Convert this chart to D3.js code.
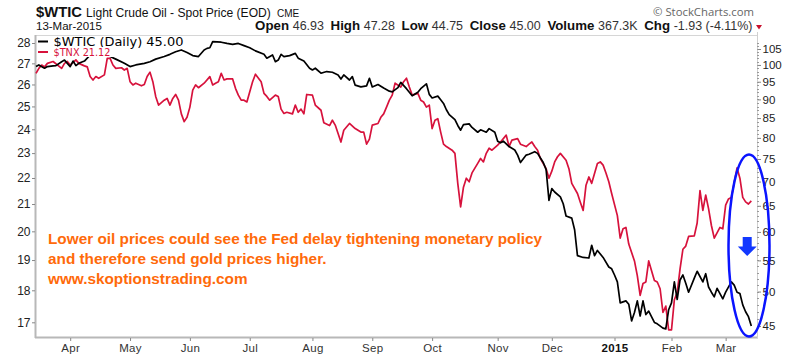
<!DOCTYPE html>
<html><head><meta charset="utf-8">
<script src="https://cdn.jsdelivr.net/npm/d3@7"></script>
<style>body{margin:0;background:#fff}svg{display:block}</style>
</head><body><svg id="c" width="800" height="357"></svg>
<script>
// ---------------- DATA ----------------
const holidays = ["2014-04-18","2014-05-26","2014-07-04","2014-09-01","2014-11-27","2014-12-25","2015-01-01","2015-01-19","2015-02-16"];
const monthStarts = ["2014-04-01","2014-05-01","2014-06-02","2014-07-01","2014-08-01","2014-09-02","2014-10-01","2014-11-03","2014-12-01","2015-01-02","2015-02-02","2015-03-02"];
const monthLabels = ["Apr","May","Jun","Jul","Aug","Sep","Oct","Nov","Dec","2015","Feb","Mar"];
const leftTicks = [17,18,19,20,21,22,23,24,25,26,27,28];
const rightTicks = [45,50,55,60,65,70,75,80,85,90,95,100,105];

const wticSeries = [
["2014-03-14",99.5],["2014-03-17",100.0],["2014-03-19",99.0],["2014-03-20",99.5],["2014-03-24",99.7],["2014-03-25",99.8],
["2014-03-27",101.0],["2014-03-28",101.5],["2014-04-01",99.5],["2014-04-02",101.2],["2014-04-03",99.8],["2014-04-04",100.5],
["2014-04-08",101.2],["2014-04-10",103.1],["2014-04-15",103.8],["2014-04-17",104.3],["2014-04-21",104.0],["2014-04-22",102.6],
["2014-04-24",101.8],["2014-04-29",100.5],["2014-05-01",99.5],["2014-05-05",100.0],["2014-05-08",100.5],["2014-05-12",101.0],
["2014-05-14",101.8],["2014-05-19",102.6],["2014-05-21",103.3],["2014-05-23",104.1],["2014-05-28",104.7],["2014-05-30",103.9],
["2014-06-03",102.9],["2014-06-05",102.6],["2014-06-09",104.7],["2014-06-10",105.2],["2014-06-11",105.4],["2014-06-12",107.4],
["2014-06-17",107.2],["2014-06-19",106.8],["2014-06-23",106.5],["2014-06-25",106.8],["2014-06-27",106.1],["2014-07-01",105.4],
["2014-07-03",104.4],["2014-07-09",103.3],["2014-07-10",102.1],["2014-07-14",103.1],["2014-07-15",101.0],["2014-07-16",101.5],
["2014-07-17",103.3],["2014-07-18",102.6],["2014-07-22",102.9],["2014-07-24",103.6],["2014-07-25",102.1],["2014-07-29",101.2],
["2014-07-31",99.0],["2014-08-01",98.5],["2014-08-04",99.0],["2014-08-06",97.5],["2014-08-08",98.0],["2014-08-12",97.8],
["2014-08-14",97.0],["2014-08-15",95.8],["2014-08-18",97.0],["2014-08-20",95.5],["2014-08-21",96.5],["2014-08-22",94.0],
["2014-08-26",93.5],["2014-08-28",93.8],["2014-08-29",96.0],["2014-09-02",93.5],["2014-09-04",94.2],["2014-09-08",93.2],
["2014-09-10",92.3],["2014-09-11",92.1],["2014-09-15",93.3],["2014-09-16",94.8],["2014-09-18",93.0],["2014-09-22",91.0],
["2014-09-24",92.0],["2014-09-25",93.0],["2014-09-29",94.4],["2014-09-30",91.4],["2014-10-01",90.4],["2014-10-03",90.9],
["2014-10-06",89.9],["2014-10-07",88.9],["2014-10-08",87.2],["2014-10-09",85.9],["2014-10-13",84.6],["2014-10-14",83.1],
["2014-10-15",81.9],["2014-10-16",83.3],["2014-10-20",83.5],["2014-10-21",82.6],["2014-10-23",81.4],["2014-10-24",82.0],
["2014-10-28",81.4],["2014-10-29",82.3],["2014-10-31",81.4],["2014-11-03",79.2],["2014-11-04",78.8],["2014-11-05",79.2],
["2014-11-07",77.9],["2014-11-11",77.1],["2014-11-12",75.9],["2014-11-13",74.2],["2014-11-17",75.9],["2014-11-18",76.1],
["2014-11-20",76.7],["2014-11-21",76.3],["2014-11-25",74.2],["2014-11-26",72.6],["2014-11-28",66.1],["2014-12-01",68.5],
["2014-12-02",67.8],["2014-12-04",66.8],["2014-12-05",65.4],["2014-12-08",63.0],["2014-12-10",62.6],["2014-12-11",60.4],
["2014-12-12",55.8],["2014-12-16",55.5],["2014-12-18",55.4],["2014-12-19",57.6],["2014-12-22",55.8],["2014-12-23",56.7],
["2014-12-26",55.5],["2014-12-30",53.9],["2014-12-31",53.6],["2015-01-02",52.6],["2015-01-05",51.5],["2015-01-06",48.3],
["2015-01-08",48.6],["2015-01-09",48.1],["2015-01-12",45.7],["2015-01-13",46.9],["2015-01-14",48.6],["2015-01-15",46.4],
["2015-01-16",48.6],["2015-01-20",46.6],["2015-01-21",47.1],["2015-01-23",45.5],["2015-01-26",45.3],["2015-01-28",44.7],
["2015-01-29",44.6],["2015-01-30",47.3],["2015-02-02",48.3],["2015-02-03",51.5],["2015-02-04",48.8],["2015-02-05",51.8],
["2015-02-06",52.6],["2015-02-09",51.3],["2015-02-10",49.9],["2015-02-12",52.1],["2015-02-13",53.2],["2015-02-18",51.5],
["2015-02-19",52.8],["2015-02-20",50.7],["2015-02-23",49.9],["2015-02-24",49.2],["2015-02-25",50.5],["2015-02-27",48.9],
["2015-03-02",49.9],["2015-03-04",51.5],["2015-03-05",51.0],["2015-03-06",49.9],["2015-03-09",49.7],["2015-03-10",48.0],
["2015-03-11",47.0],["2015-03-12",46.3],["2015-03-13",45.0]
];

const tnxSeries = [
["2014-03-14",26.52],["2014-03-17",26.76],["2014-03-18",26.92],["2014-03-19",26.83],["2014-03-20",27.0],["2014-03-24",27.09],
["2014-03-27",26.76],["2014-03-28",27.0],["2014-03-31",27.09],["2014-04-01",26.92],["2014-04-03",27.17],["2014-04-04",27.0],
["2014-04-08",26.88],["2014-04-09",26.83],["2014-04-10",26.37],["2014-04-11",26.21],["2014-04-14",26.37],["2014-04-15",26.29],
["2014-04-17",26.45],["2014-04-21",27.24],["2014-04-22",27.24],["2014-04-23",26.92],["2014-04-24",26.76],["2014-04-28",26.79],
["2014-04-29",26.68],["2014-04-30",26.76],["2014-05-01",26.13],["2014-05-02",25.98],["2014-05-05",26.06],["2014-05-07",25.94],
["2014-05-08",26.0],["2014-05-09",26.37],["2014-05-12",26.58],["2014-05-13",26.13],["2014-05-14",25.45],["2014-05-15",25.06],
["2014-05-19",25.28],["2014-05-20",25.36],["2014-05-21",25.06],["2014-05-22",25.36],["2014-05-23",25.54],["2014-05-27",25.28],
["2014-05-28",24.67],["2014-05-29",24.33],["2014-05-30",24.52],["2014-06-02",24.97],["2014-06-03",25.74],["2014-06-04",25.98],
["2014-06-05",25.85],["2014-06-09",26.06],["2014-06-11",26.37],["2014-06-12",25.98],["2014-06-13",26.06],["2014-06-16",26.13],
["2014-06-17",26.52],["2014-06-18",26.21],["2014-06-19",26.26],["2014-06-23",26.26],["2014-06-24",25.82],["2014-06-25",25.51],
["2014-06-26",25.28],["2014-06-27",25.28],["2014-06-30",25.2],["2014-07-02",26.13],["2014-07-03",26.48],["2014-07-08",26.13],
["2014-07-09",25.59],["2014-07-10",25.45],["2014-07-11",25.28],["2014-07-15",25.51],["2014-07-16",25.45],["2014-07-17",24.88],
["2014-07-18",24.69],["2014-07-21",24.74],["2014-07-23",24.67],["2014-07-24",25.06],["2014-07-25",24.74],["2014-07-28",24.88],
["2014-07-29",24.67],["2014-07-30",25.54],["2014-08-01",25.51],["2014-08-04",25.06],["2014-08-06",24.83],["2014-08-07",24.28],
["2014-08-11",24.16],["2014-08-12",24.39],["2014-08-13",24.18],["2014-08-15",23.46],["2014-08-18",23.96],["2014-08-20",24.25],
["2014-08-22",24.03],["2014-08-26",23.88],["2014-08-27",23.88],["2014-08-28",23.37],["2014-08-29",23.58],["2014-09-02",24.18],
["2014-09-04",24.25],["2014-09-05",24.52],["2014-09-08",24.67],["2014-09-09",24.97],["2014-09-10",25.28],["2014-09-11",25.51],
["2014-09-12",26.06],["2014-09-16",25.88],["2014-09-17",26.13],["2014-09-18",26.29],["2014-09-19",25.88],["2014-09-22",25.51],
["2014-09-24",25.59],["2014-09-25",25.28],["2014-09-26",25.2],["2014-09-29",24.97],["2014-09-30",25.06],["2014-10-01",24.03],
["2014-10-02",24.39],["2014-10-03",24.46],["2014-10-06",23.88],["2014-10-07",23.37],["2014-10-08",23.27],["2014-10-10",23.12],
["2014-10-13",22.99],["2014-10-14",21.79],["2014-10-15",20.89],["2014-10-16",21.64],["2014-10-17",21.99],["2014-10-20",21.85],
["2014-10-21",22.2],["2014-10-23",22.58],["2014-10-24",22.78],["2014-10-27",22.64],["2014-10-28",22.99],["2014-10-29",23.2],
["2014-10-30",23.12],["2014-11-03",23.33],["2014-11-04",23.46],["2014-11-06",23.75],["2014-11-07",23.27],["2014-11-10",23.54],
["2014-11-12",23.6],["2014-11-13",23.37],["2014-11-17",23.27],["2014-11-18",23.37],["2014-11-19",23.46],["2014-11-20",23.27],
["2014-11-21",23.12],["2014-11-24",22.78],["2014-11-26",22.37],["2014-11-28",21.99],["2014-12-01",22.27],["2014-12-02",22.64],
["2014-12-03",22.85],["2014-12-04",22.99],["2014-12-08",22.71],["2014-12-09",22.37],["2014-12-10",21.79],["2014-12-12",21.4],
["2014-12-15",21.07],["2014-12-16",20.76],["2014-12-17",21.72],["2014-12-18",22.04],["2014-12-19",21.79],["2014-12-23",22.58],
["2014-12-24",22.64],["2014-12-26",22.51],["2014-12-29",22.2],["2014-12-30",21.85],["2014-12-31",21.4],["2015-01-05",20.57],
["2015-01-06",19.76],["2015-01-07",20.09],["2015-01-08",20.14],["2015-01-09",19.55],["2015-01-13",18.97],["2015-01-14",18.48],
["2015-01-15",17.84],["2015-01-16",18.22],["2015-01-20",18.27],["2015-01-21",18.97],["2015-01-23",18.32],["2015-01-26",18.27],
["2015-01-27",18.05],["2015-01-28",17.3],["2015-01-29",17.5],["2015-01-30",16.77],["2015-02-02",16.77],["2015-02-03",17.7],
["2015-02-04",17.93],["2015-02-05",18.7],["2015-02-06",19.37],["2015-02-09",19.48],["2015-02-10",19.82],["2015-02-12",19.84],
["2015-02-13",20.3],["2015-02-17",21.51],["2015-02-18",20.76],["2015-02-19",21.34],["2015-02-20",20.83],["2015-02-23",20.21],
["2015-02-24",19.76],["2015-02-26",20.14],["2015-02-27",20.09],["2015-03-02",20.96],["2015-03-03",21.19],["2015-03-04",21.25],
["2015-03-06",22.4],["2015-03-09",21.99],["2015-03-10",21.25],["2015-03-11",21.08],["2015-03-12",21.0],["2015-03-13",21.12]
];

const titleSymbol = "$WTIC";
const titleName = "Light Crude Oil - Spot Price (EOD)";
const titleExchange = "CME";
const dateLabel = "13-Mar-2015";
const statLabels = ["Open","High","Low","Close","Volume","Chg"];
const statValues = ["46.93","47.28","44.75","45.00","367.3K","-1.93 (-4.11%)"];
const legendLabels = ["$WTIC (Daily) 45.00","$TNX 21.12"];
const noteLines = ["Lower oil prices could see the Fed delay tightening monetary policy","and therefore send gold prices higher.","www.skoptionstrading.com"];
const credit = "\u00A9 StockCharts.com";

// ---------------- LAYOUT ----------------
const plot = {left:36, right:757, top:35, bottom:337};
const C_BLACK = "#000", C_RED = "#d7123c", C_ORANGE = "#ff6a0a", C_BLUE = "#0a14ff", C_GRID = "#b8b8b8";
const svg = d3.select("#c");

// trading calendar (weekdays minus exchange holidays)
const fmt = d3.utcFormat("%Y-%m-%d");
const cal = [];
for (let t = Date.UTC(2014,2,14); t <= Date.UTC(2015,2,18); t += 864e5) {
  const d = new Date(t), wd = d.getUTCDay(), s = fmt(d);
  if (wd === 0 || wd === 6 || holidays.includes(s)) continue;
  cal.push(s);
}
const calIdx = new Map(cal.map((s,i)=>[s,i]));
function dayIndex(s){ if (calIdx.has(s)) return calIdx.get(s); const i = cal.findIndex(c=>c>s); return i < 0 ? cal.length-1 : i; }

const x = d3.scaleLinear().domain([0, 253]).range([plot.left, plot.right]);
const yL = d3.scaleLog().domain([17, 28]).range([322.3, 43]);
const yR = d3.scaleLog().domain([45, 105]).range([326, 49]);

// frame
svg.append("line").attr("x1",plot.left).attr("x2",plot.right).attr("y1",plot.top+0.5).attr("y2",plot.top+0.5).attr("stroke","#d6d6d6").attr("stroke-width",1);
svg.append("line").attr("x1",plot.left-0.5).attr("x2",plot.left-0.5).attr("y1",plot.top).attr("y2",plot.bottom+1).attr("stroke",C_GRID).attr("stroke-width",2);
svg.append("line").attr("x1",plot.left-1).attr("x2",plot.right+1).attr("y1",plot.bottom+0.5).attr("y2",plot.bottom+0.5).attr("stroke",C_GRID).attr("stroke-width",2);
svg.append("line").attr("x1",plot.right+0.5).attr("x2",plot.right+0.5).attr("y1",plot.top-3).attr("y2",plot.bottom+1).attr("stroke","#d0d0d0").attr("stroke-width",1);

// right minor ticks (dotted look)
const minorR = d3.range(45, 108, 1);
svg.append("g").selectAll("line").data(minorR).join("line")
  .attr("x1",plot.right).attr("x2",plot.right+2)
  .attr("y1",d=>Math.round(yR(d))+0.5).attr("y2",d=>Math.round(yR(d))+0.5)
  .attr("stroke","#9a9a9a").attr("stroke-width",1);

// axes
const axisFont = "'Liberation Sans', Arial, sans-serif";
const gL = svg.append("g").attr("transform",`translate(${plot.left-1},0)`)
  .call(d3.axisLeft(yL).tickValues(leftTicks).tickFormat(d3.format("d")).tickSize(3).tickPadding(1.5));
const gR = svg.append("g").attr("transform",`translate(${plot.right+1},0)`)
  .call(d3.axisRight(yR).tickValues(rightTicks).tickFormat(d3.format("d")).tickSize(3).tickPadding(1.5));
const gB = svg.append("g").attr("transform",`translate(0,${plot.bottom+1})`)
  .call(d3.axisBottom(x).tickValues(monthStarts.map(dayIndex)).tickFormat((d,i)=>monthLabels[i]).tickSize(3).tickPadding(3));
[gL,gR,gB].forEach(g=>{
  g.select(".domain").remove();
  g.selectAll(".tick line").attr("stroke","#888");
  g.selectAll("text").attr("fill","#222").style("font-family",axisFont);
});
gL.selectAll("text").style("font-size","12px");
gR.selectAll("text").style("font-size","11.5px");
gB.selectAll("text").style("font-size","11.5px").style("letter-spacing","0.3px")
  .style("font-weight",(d,i)=>monthLabels[i]==="2015"?"bold":"normal").attr("fill",(d,i)=>monthLabels[i]==="2015"?"#111":"#333");

// series
const lineL = d3.line().x(d=>x(dayIndex(d[0]))).y(d=>yL(d[1]));
const lineR = d3.line().x(d=>x(dayIndex(d[0]))).y(d=>yR(d[1]));
svg.append("path").datum(tnxSeries).attr("d",lineL).attr("fill","none").attr("stroke",C_RED).attr("stroke-width",1.7).attr("stroke-linejoin","round");
svg.append("path").datum(wticSeries).attr("d",lineR).attr("fill","none").attr("stroke",C_BLACK).attr("stroke-width",1.7).attr("stroke-linejoin","round");

// legend
const legFont = "'DejaVu Sans', Verdana, sans-serif";
const legRows = [{t:legendLabels[0], c:C_BLACK, y:45.5, dy:41.5},{t:legendLabels[1], c:C_RED, y:56, dy:52}];
const legG = svg.append("g");
legRows.forEach((r,i)=>{
  const bg = legG.append("rect").attr("fill","#fff");
  const tx = legG.append("text").attr("x",53.5).attr("y",r.y).text(r.t).attr("fill",r.c)
    .style("font-family",legFont).style("font-size","10.5px");
  const target = i===0 ? 130 : 57;
  const w = tx.node().getComputedTextLength();
  tx.style("font-size", (10.5*target/w).toFixed(2)+"px");
  bg.attr("x",37).attr("y",r.y-9).attr("width",target+19).attr("height",i===0?10.5:10);
  legG.append("line").attr("x1",38).attr("x2",48).attr("y1",r.dy).attr("y2",r.dy).attr("stroke",r.c).attr("stroke-width",2);
});

// header
const hFont = "'Liberation Sans', Arial, sans-serif";
svg.append("text").attr("x",36).attr("y",17).text(titleSymbol).style("font-family",hFont).style("font-weight","bold").style("font-size","14.8px").attr("fill","#111");
const tn = svg.append("text").attr("x",86).attr("y",17).text(titleName).style("font-family",hFont).style("font-size","12px").attr("fill","#111");
{ const w = tn.node().getComputedTextLength(); tn.style("font-size",(12*185/w).toFixed(2)+"px"); }
svg.append("text").attr("x",277).attr("y",17).text(titleExchange).style("font-family",hFont).style("font-size","10px").attr("fill","#111");
svg.append("text").attr("x",36).attr("y",29.5).text(dateLabel).style("font-family",hFont).style("font-size","11.5px").attr("fill","#111");

// stats line (right aligned, fitted to reference width)
const stats = svg.append("text").attr("x",752.5).attr("y",29.5).attr("text-anchor","end").style("font-family",hFont);
function buildStats(fs){
  stats.selectAll("tspan").remove();
  stats.style("font-size",fs+"px");
  statLabels.forEach((l,i)=>{
    stats.append("tspan").attr("dx", i===0?0:fs*0.5).style("font-weight","bold").attr("fill","#111").text(l);
    stats.append("tspan").attr("dx",fs*0.28).attr("fill","#333").style("font-size",(fs*0.94)+"px").text(statValues[i]);
  });
}
buildStats(12);
{ const w = stats.node().getBBox().width; buildStats(+(12*498/w).toFixed(2)); }
svg.append("path").attr("d",d3.line()([[756,25],[762,25],[759,29.5]])+"Z").attr("fill","#c8102e");
const cr = svg.append("text").attr("x",754).attr("y",15.5).attr("text-anchor","end").text(credit)
  .style("font-family","'Open Sans', 'Liberation Sans', sans-serif").style("font-size","11.5px").attr("fill","#666");
{ const w = cr.node().getComputedTextLength(); cr.style("font-size",(11.5*101/w).toFixed(2)+"px"); }

// annotation text
const note = svg.append("g");
const noteBase = [244, 264.3, 284.3];
const nt = noteLines.map((t,i)=>note.append("text").attr("x",48).attr("y",noteBase[i]).text(t)
  .style("font-family",hFont).style("font-weight","bold").style("font-size","15px").attr("fill",C_ORANGE));
{ const w = nt[0].node().getComputedTextLength(); const fs = (15*494/w).toFixed(2)+"px"; nt.forEach(n=>n.style("font-size",fs)); }

// blue ellipse + arrow annotation
svg.append("ellipse").attr("cx",749).attr("cy",245.5).attr("rx",20.5).attr("ry",91).attr("fill","none").attr("stroke",C_BLUE).attr("stroke-width",2.5);
svg.append("path").attr("d",d3.line()([[742.7,237],[751.7,237],[751.7,246.5],[756.7,246.5],[747.2,256],[737.8,246.5],[742.7,246.5]])+"Z").attr("fill","#1238ff");
</script>
</body></html>
